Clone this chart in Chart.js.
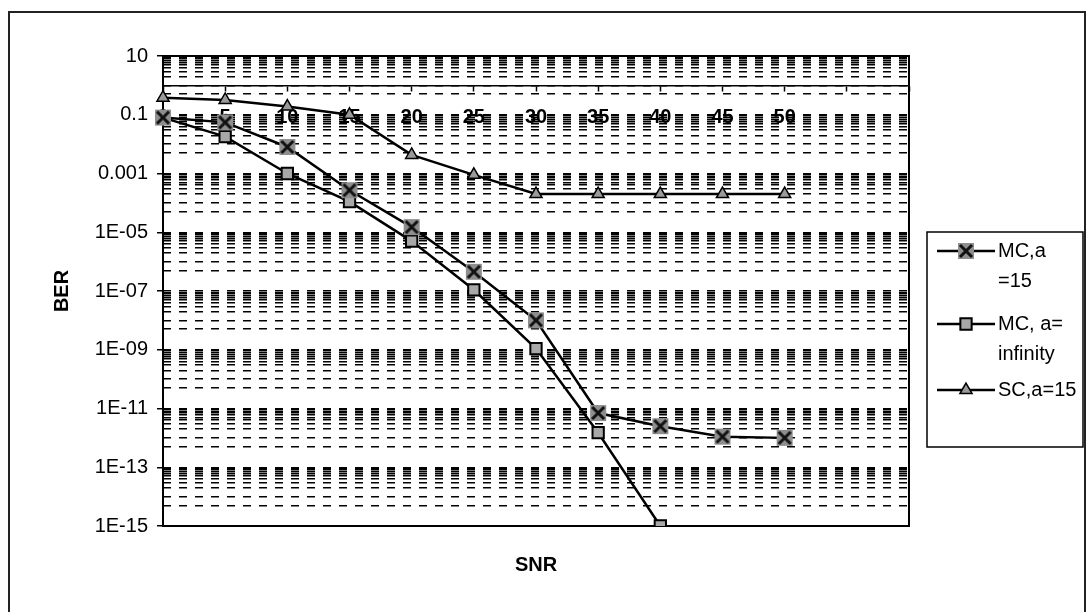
<!DOCTYPE html>
<html>
<head>
<meta charset="utf-8">
<script src="https://cdn.jsdelivr.net/npm/chart.js@4/dist/chart.umd.min.js"></script>
<style>
  html, body { margin: 0; padding: 0; background: #fff; }
  #wrap { width: 1087px; height: 612px; }
</style>
</head>
<body>
<div id="wrap"><canvas id="grafic" width="1087" height="612"></canvas></div>
<script>
// SNR categories (last two slots are unlabelled in the original axis)
const snr = ['0', '5', '10', '15', '20', '25', '30', '35', '40', '45', '50', '', ''];

// BER values
const mcA15   = [0.08, 0.055, 0.008, 2.7e-4, 1.5e-5, 4.5e-7, 1e-8, 7e-12, 2.5e-12, 1.1e-12, 1e-12, null, null];
const mcInf   = [0.08, 0.018, 0.001, 1.1e-4, 5e-6, 1.1e-7, 1.1e-9, 1.5e-12, 1e-15, null, null, null, null];
const scA15   = [0.38, 0.32, 0.19, 0.1, 0.0043, 0.0009, 0.0002, 0.0002, 0.0002, 0.0002, 0.0002, null, null];

const nomsSeries  = ['MC,a =15', 'MC, a= infinity', 'SC,a=15'];
const liniesLlegenda = [['MC,a', '=15'], ['MC, a=', 'infinity'], ['SC,a=15']];

// labelled ticks of the log axis
const yTickValues = [10, 0.1, 0.001, 1e-5, 1e-7, 1e-9, 1e-11, 1e-13, 1e-15];
const yTickLabels = ['10', '0.1', '0.001', '1E-05', '1E-07', '1E-09', '1E-11', '1E-13', '1E-15'];

const FONT = 'Arial, "Liberation Sans", sans-serif';

// dashed minor lines: k * 10^(e-1) within each two-decade band, plus a half step
const liniesGraella = [1e-15];
for (let e = -13; e <= 1; e += 2) {
  const u = Math.pow(10, e - 1);
  liniesGraella.push(Number((0.5 * u).toPrecision(6)));
  for (let k = 1; k <= 10; k++) liniesGraella.push(Number((k * u).toPrecision(6)));
}

const esMajor = (v) => yTickValues.findIndex(t => Math.abs(Math.log10(v) - Math.log10(t)) < 1e-6);

// markers
function marcaCreu() {
  const c = document.createElement('canvas');
  c.width = 20; c.height = 20;
  const g = c.getContext('2d');
  g.fillStyle = '#8e8e8e';
  g.fillRect(2, 2, 16, 16);
  g.strokeStyle = '#111';
  g.lineWidth = 3;
  g.beginPath();
  g.moveTo(4, 4); g.lineTo(16, 16);
  g.moveTo(16, 4); g.lineTo(4, 16);
  g.stroke();
  return c;
}
const creu = marcaCreu();

const estils = [
  { pointStyle: creu, radius: 9, bg: '#8e8e8e', border: '#111', bw: 0 },
  { pointStyle: 'rect', radius: 8, bg: '#a8a8a8', border: '#000', bw: 2 },
  { pointStyle: 'triangle', radius: 7, bg: '#9a9a9a', border: '#000', bw: 1.5 },
];

const pluginMarc = {
  id: 'marc',
  beforeDatasetsDraw(chart) {
    const { ctx, chartArea: a } = chart;
    ctx.save();
    ctx.strokeStyle = '#000';
    ctx.lineWidth = 2;
    ctx.strokeRect(a.left, a.top, a.right - a.left, a.bottom - a.top);
    ctx.restore();
  },
  afterDraw(chart) {
    const { ctx, chartArea: a } = chart;
    ctx.save();
    // outer frame of the chart object
    ctx.strokeStyle = '#222';
    ctx.lineWidth = 2;
    ctx.strokeRect(9, 12, 1076, 620);

    // x title
    ctx.fillStyle = '#000';
    ctx.font = 'bold 20px ' + FONT;
    ctx.textAlign = 'center';
    ctx.textBaseline = 'middle';
    ctx.fillText('SNR', (a.left + a.right) / 2, 565);

    // legend
    ctx.lineWidth = 1.5;
    ctx.strokeStyle = '#000';
    ctx.strokeRect(927, 232, 156, 215);
    const ys = [251, 324, 390];
    ctx.font = '20px ' + FONT;
    ctx.textAlign = 'left';
    chart.data.datasets.forEach((ds, i) => {
      const y = ys[i];
      ctx.strokeStyle = '#000';
      ctx.lineWidth = 2.5;
      ctx.beginPath();
      ctx.moveTo(937, y);
      ctx.lineTo(995, y);
      ctx.stroke();
      const e = estils[i];
      ctx.fillStyle = e.bg;
      ctx.strokeStyle = e.border;
      ctx.lineWidth = e.bw;
      Chart.helpers.drawPoint(ctx, { pointStyle: e.pointStyle, radius: e.radius, rotation: 0, borderWidth: e.bw }, 966, y);
      ctx.fillStyle = '#000';
      liniesLlegenda[i].forEach((t, j) => ctx.fillText(t, 998, y + j * 30));
    });
    ctx.restore();
  }
};

const dades = [mcA15, mcInf, scA15];

new Chart(document.getElementById('grafic').getContext('2d'), {
  type: 'line',
  data: {
    labels: snr,
    datasets: dades.map((d, i) => ({
      label: nomsSeries[i],
      data: d,
      borderColor: '#000',
      borderWidth: 2.5,
      backgroundColor: estils[i].bg,
      pointStyle: estils[i].pointStyle,
      pointRadius: estils[i].radius,
      pointBackgroundColor: estils[i].bg,
      pointBorderColor: estils[i].border,
      pointBorderWidth: estils[i].bw,
      tension: 0,
      spanGaps: false,
      fill: false,
    }))
  },
  options: {
    responsive: false,
    animation: false,
    layout: { padding: { top: 56, bottom: 86, left: 46, right: 178 } },
    plugins: {
      legend: { display: false },
      tooltip: { enabled: false },
    },
    scales: {
      x: {
        type: 'category',
        position: { y: 1 },
        offset: false,
        grid: { drawOnChartArea: false, drawTicks: true, tickLength: 5, tickColor: '#000', tickWidth: 1.5 },
        border: { display: true, color: '#000', width: 1.5 },
        ticks: { color: '#000', font: { size: 20, weight: 'bold', family: FONT }, padding: 15, autoSkip: false, maxRotation: 0 },
        afterFit: (s) => { s.height = 0; },
      },
      y: {
        type: 'logarithmic',
        min: 1e-15,
        max: 10,
        afterBuildTicks: (s) => { s.ticks = liniesGraella.map(v => ({ value: v })); },
        ticks: {
          autoSkip: false,
          color: '#000',
          padding: 9,
          font: { size: 20, family: FONT },
          callback: (v) => { const i = esMajor(v); return i >= 0 ? yTickLabels[i] : ''; },
        },
        grid: {
          color: '#000',
          lineWidth: 1.5,
          tickLength: 6,
          tickWidth: 1.5,
          tickColor: (c) => (c.tick && esMajor(c.tick.value) >= 0) ? '#000' : 'rgba(0,0,0,0)',
        },
        border: { display: false, dash: [8, 8] },
        title: { display: true, text: 'BER', color: '#000', font: { size: 20, weight: 'bold', family: FONT }, padding: 4 },
        afterFit: (s) => { s.width = 117; },
      }
    }
  },
  plugins: [pluginMarc]
});
</script>
</body>
</html>
